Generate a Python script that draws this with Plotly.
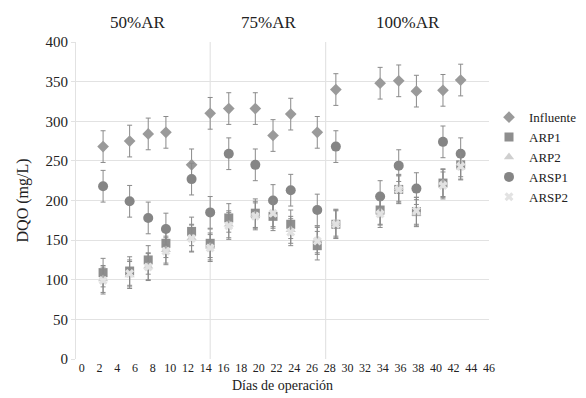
import plotly.graph_objects as go

days = [2.4, 5.4, 7.5, 9.5, 12.4, 14.5, 16.6, 19.6, 21.6, 23.6, 26.6, 28.7, 33.7, 35.8, 37.8, 40.8, 42.8]

influente = [268, 275, 284, 286, 245, 310, 316, 316, 282, 309, 286, 340, 348, 351, 338, 339, 352]
arp1 = [109, 111, 125, 146, 161, 146, 178, 184, 180, 170, 143, 170, 188, 214, 186, 222, 245]
arp2 = [101, 106, 117, 138, 153, 142, 170, 182, 182, 163, 151, 172, 186, 216, 184, 222, 247]
arsp1 = [218, 199, 178, 164, 227, 185, 259, 245, 200, 213, 188, 268, 205, 244, 215, 274, 259]
arsp2 = [99, 108, 116, 136, 152, 140, 168, 180, 184, 160, 149, 170, 183, 214, 187, 219, 243]

err_inf = [20] * len(days)
err_arp1 = [18] * len(days)
err_arp2 = [17] * len(days)
err_arsp1 = [20] * len(days)
err_arsp2 = [17] * len(days)

phase_lines = [14.5, 27.55]
phase_labels = ["50%AR", "75%AR", "100%AR"]
phase_label_x = [6.3, 21.1, 36.9]

x_ticks = list(range(0, 48, 2))
y_ticks = list(range(0, 450, 50))

FONT = "Liberation Serif"

series = [
    ("Influente", influente, err_inf, "diamond", "#9a9a9a", 9),
    ("ARP1", arp1, err_arp1, "square", "#8e8e8e", 9),
    ("ARP2", arp2, err_arp2, "triangle-up", "#cfcfcf", 9),
    ("ARSP1", arsp1, err_arsp1, "circle", "#858585", 10),
    ("ARSP2", arsp2, err_arsp2, "x", "#e2e2e2", 8),
]

fig = go.Figure()
for name, vals, err, sym, col, sz in series:
    fig.add_trace(go.Scatter(
        x=days, y=vals, mode="markers", name=name,
        marker=dict(symbol=sym, color=col, size=sz, line=dict(width=0)),
        error_y=dict(type="data", array=err, visible=True, color="#8a8a8a",
                     thickness=1, width=2.5),
    ))

for xv in phase_lines:
    fig.add_shape(type="line", x0=xv, x1=xv, y0=0, y1=400, xref="x", yref="y",
                  line=dict(color="#dedede", width=1), layer="below")

for lab, xv in zip(phase_labels, phase_label_x):
    fig.add_annotation(x=xv, y=1.0, xref="x", yref="paper", yanchor="bottom",
                       text=lab, showarrow=False, yshift=8,
                       font=dict(family=FONT, size=17, color="#222"))

fig.update_layout(
    width=586, height=398,
    margin=dict(l=68, r=93, t=34, b=47),
    paper_bgcolor="white", plot_bgcolor="white",
    font=dict(family=FONT, color="#222", size=12),
    showlegend=True,
    legend=dict(x=1.0, y=0.81, xanchor="left", yanchor="top",
                font=dict(family=FONT, size=13, color="#222"),
                bgcolor="rgba(0,0,0,0)", tracegroupgap=0, itemwidth=30),
)
fig.update_xaxes(
    range=[-0.659, 46.0], tickmode="array", tickvals=x_ticks,
    ticktext=[str(v) for v in x_ticks], showgrid=False, zeroline=False,
    showline=False, tickfont=dict(family=FONT, size=12, color="#222"),
    title=dict(text="Días de operación", font=dict(family=FONT, size=14, color="#222"), standoff=6),
)
fig.update_yaxes(
    range=[0, 400], tickmode="array", tickvals=y_ticks,
    showgrid=True, gridcolor="#e2e2e2", gridwidth=1, zeroline=False,
    showline=True, linecolor="#e2e2e2", linewidth=1,
    ticks="outside", ticklen=4, tickcolor="#e2e2e2",
    tickfont=dict(family=FONT, size=15, color="#222"),
    title=dict(text="DQO (mg/L)", font=dict(family=FONT, size=16, color="#222"), standoff=12),
)

fig.write_html("out.html")
